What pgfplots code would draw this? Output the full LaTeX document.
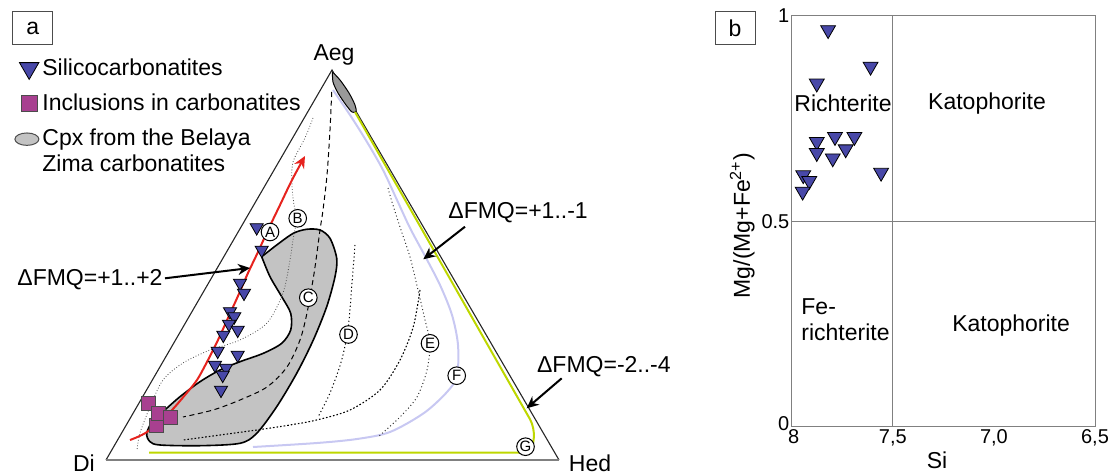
\documentclass[border=0pt]{standalone}
\usepackage{fontspec}
\setmainfont{Liberation Sans}
\usepackage{pgfplots}
\pgfplotsset{compat=1.18}
\usetikzlibrary{arrows.meta}
\definecolor{tri}{RGB}{72,72,168}
\definecolor{sq}{RGB}{168,64,144}
\definecolor{blob}{RGB}{195,195,195}
\definecolor{redl}{RGB}{230,35,30}
\definecolor{lil}{RGB}{200,200,242}
\definecolor{grn}{RGB}{190,215,0}
\newcommand\fs{\fontsize{11.5pt}{13pt}\selectfont}
\tikzset{
  circ/.style={circle, draw, fill=white, inner sep=0pt, minimum size=8.8pt,
    line width=0.5pt, font=\fontsize{7.5pt}{8pt}\selectfont},
  arr/.style={black, line width=1pt, -{Stealth[length=6pt,width=5.5pt]}},
}
\begin{document}
\begin{tikzpicture}
\path[use as bounding box] (0,0) rectangle (555.5pt,237.5pt);
% ---------------- panel a (pixel coordinates) ----------------
\begin{axis}[at={(0pt,0pt)}, anchor=south west, scale only axis,
  width=555.5pt, height=237.5pt, xmin=0, xmax=1111, ymin=0, ymax=475,
  y dir=reverse, axis lines=none, clip=false,
  legend style={at={(axis cs:14,55)}, anchor=north west, draw=none, fill=none,
    inner sep=0pt, row sep=4.8pt, font=\fs, nodes={inner sep=1.5pt, align=left}},
  legend cell align=left,
  ]
\addlegendimage{only marks, mark=triangle*, mark size=5.6pt,
  mark options={rotate=180, fill=tri, draw=black, line width=0.4pt}}
\addlegendentry{Silicocarbonatites}
\addlegendimage{only marks, mark=square*, mark size=3.9pt,
  mark options={fill=sq, draw=black!70, line width=0.4pt}}
\addlegendentry{Inclusions in carbonatites}
\addlegendimage{legend image code/.code={\draw[fill=blob, draw=black!70, line width=0.5pt] (0.26cm,6.3pt) ellipse (6pt and 3.1pt);}}
\addlegendentry{Cpx from the Belaya\\Zima carbonatites}
% triangle frame
\addplot[forget plot, black!85, line width=0.55pt] coordinates {(106,460) (332,70) (559,460)};
\addplot[forget plot, gray, line width=1pt] coordinates {(106,460) (559,460)};
% grey field
\addplot[forget plot, smooth, fill=blob, draw=black, line width=0.8pt] coordinates {
(261.7,256.7) (270,276.7) (281.7,296.7) (290.7,313.3) (290.7,330) (281.7,343.3)
(263.3,353.3) (240,361.7) (220,370) (200,381.7) (180,396.7) (166.7,408.3)
(153.3,420) (146.7,433.3) (150,441.7) (160,445) (200,445.7) (240,443.3)
(256.7,433.3) (276.7,406.7) (296.7,373.3) (313.3,340) (326.7,306.7) (335,276.7)
(336.7,258.3) (330,238.3) (320,230) (306.7,229.3) (293.3,233.3) (276.7,245)
(261.7,256.7)};
% small field near Aeg
\addplot[forget plot, smooth, fill=gray!80, draw=black, line width=0.5pt] coordinates {
(332.5,72) (340,80) (349,93) (355,105) (356,111.5) (352,112) (346,105) (338,93) (333,82) (332.5,72)};
% green line G
\addplot[forget plot, grn, line width=1pt, rounded corners=5pt] coordinates {
(149,452.5) (532,452.5) (535,428) (355,112)};
% lilac line F
\addplot[forget plot, lil, line width=1pt, smooth] coordinates {
(333,90) (350,115) (367,142) (383,170) (397,200) (410,228) (425,256) (440,285)
(452,315) (458,345) (457,376) (447,392) (424,413) (390,432) (357,439) (317,443) (253,447)};
% dashed C
\addplot[forget plot, black, line width=0.5pt, smooth, dash pattern=on 2.5pt off 1.8pt] coordinates {
(331.7,92) (330,130) (327,175) (323,210) (320,230) (316,260) (313,280) (307,313)
(300,340) (287,367) (267,387) (240,400) (213,410) (183,417)};
% dotted B
\addplot[forget plot, black!70, line width=0.4pt, smooth, dash pattern=on 0.4pt off 1pt] coordinates {
(313,118) (305,138) (293,162) (292,185) (294,205) (296.7,218) (293,240) (290,260)
(283,293) (267,323) (240,340) (210,350) (183,363) (163,380) (150,407) (140,433) (137,450)};
% dotted D
\addplot[forget plot, black, line width=0.5pt, smooth, dash pattern=on 0.6pt off 1.3pt] coordinates {
(355,245) (352,283) (348.3,326.7) (341.7,360) (330,393) (318,417)};
% dense dotted
\addplot[forget plot, black, line width=0.55pt, smooth, dash pattern=on 0.8pt off 1pt] coordinates {
(420,290) (413.3,326.7) (400,360) (380,390) (350,410) (316.7,420) (290,425) (256.7,430) (183.3,440)};
% dotted E
\addplot[forget plot, black!80, line width=0.5pt, smooth, dash pattern=on 0.5pt off 1.3pt] coordinates {
(388,188) (392,202) (400,227) (410,257) (418,290) (425,320) (430,343) (427,370)
(417,397) (400,417) (378,437)};
% red trend
\addplot[forget plot, redl, line width=1pt, smooth, -{Stealth[length=6pt,width=5.5pt]}] coordinates {
(130,440) (147,432) (170,412) (185,395) (197,380) (208,360) (218,340) (228,318)
(238,296) (248,273) (258,252) (268,230) (280,205) (292,180) (305,156)};
% silicocarbonatites
\addplot[forget plot, only marks, mark=triangle*, mark size=3.8pt,
  mark options={rotate=180, fill=tri, draw=black, line width=0.4pt}] coordinates {
(256.7,227.5) (261.7,250) (240,283) (244,293) (230,311.5) (234.3,316.5) (229,324)
(237.7,330) (223.3,335) (217.7,351) (237.7,355) (215,365) (226,368) (222.7,375) (221,390)};
% inclusions
\addplot[forget plot, only marks, mark=square*, mark size=3.5pt,
  mark options={fill=sq, draw=black!70, line width=0.4pt}] coordinates {
(148.3,403.3) (156,425) (158.3,413.3) (170.7,417.3)};
% arrows
\addplot[forget plot, arr] coordinates {(165,278.3) (250,268)};
\addplot[forget plot, arr] coordinates {(465,226.7) (423.3,259.3)};
\addplot[forget plot, arr] coordinates {(561.7,378.3) (526.7,408.3)};
% labels
\node[circ] at (axis cs:270,232) {A};
\node[circ] at (axis cs:297.7,218.3) {B};
\node[circ] at (axis cs:308.3,297.7) {C};
\node[circ] at (axis cs:348.5,334.5) {D};
\node[circ] at (axis cs:430,343.3) {E};
\node[circ] at (axis cs:456.7,375.7) {F};
\node[circ] at (axis cs:525.5,446.7) {G};
\node[font=\fs] at (axis cs:334,55) {Aeg};
\node[font=\fs] at (axis cs:84,463) {Di};
\node[font=\fs] at (axis cs:590,463) {Hed};
\node[font=\fs, anchor=west, inner sep=0pt] at (axis cs:17,280) {ΔFMQ=+1..+2};
\node[font=\fs, anchor=west, inner sep=0pt] at (axis cs:448,213) {ΔFMQ=+1..-1};
\node[font=\fs, anchor=west, inner sep=0pt] at (axis cs:536.7,366.7) {ΔFMQ=-2..-4};
\node[draw=black!70, line width=0.5pt, minimum width=20pt, minimum height=16.5pt, inner sep=0pt, font=\fs] at (axis cs:32.7,28.3) {a};
\node[draw=black!70, line width=0.5pt, minimum width=20pt, minimum height=16.5pt, inner sep=0pt, font=\fs] at (axis cs:735,28.5) {b};
\end{axis}
% ---------------- panel b ----------------
\begin{axis}[at={(395.85pt,24pt)}, anchor=south west, scale only axis,
  width=151.65pt, height=205.5pt, xmin=6.5, xmax=8, x dir=reverse,
  ymin=0, ymax=1, clip=false,
  axis line style={draw=gray, line width=0.5pt},
  major tick length=0pt,
  xtick={6.5,7,7.5,8}, xticklabels={{6,5},{7,0},{7,5},{\hspace*{2pt}8}},
  ytick={0,0.5,1}, yticklabels={{\raisebox{3pt}{0}},{0.5},{\raisebox{-3pt}{1}}},
  tick label style={font=\fontsize{10pt}{11pt}\selectfont},
  xticklabel style={inner sep=1pt},
  yticklabel style={inner sep=1pt},
  ]
\addplot[gray, line width=0.5pt] coordinates {(7.5,0) (7.5,1)};
\addplot[gray, line width=0.5pt] coordinates {(8,0.5) (6.5,0.5)};
\addplot[only marks, mark=triangle*, mark size=4.3pt,
  mark options={rotate=180, fill=tri, draw=black, line width=0.4pt}] coordinates {
(7.82,0.966) (7.61,0.877) (7.876,0.836) (7.876,0.694) (7.786,0.706) (7.69,0.706)
(7.876,0.667) (7.733,0.676) (7.797,0.654) (7.943,0.613) (7.913,0.599) (7.946,0.573) (7.558,0.619)};
\node[font=\fs] at (axis cs:7.746,0.788) {Richterite};
\node[font=\fs] at (axis cs:7.034,0.788) {Katophorite};
\node[font=\fs, align=left, anchor=west, inner sep=0pt] at (axis cs:7.954,0.26) {Fe-\\richterite};
\node[font=\fs] at (axis cs:6.915,0.248) {Katophorite};
\node[font=\fs, rotate=90] at (axis cs:8.245,0.49) {Mg/(Mg+Fe\textsuperscript{2+})};
\node[font=\fs] at (axis cs:7.281,-0.08) {Si};
\end{axis}
\end{tikzpicture}
\end{document}
